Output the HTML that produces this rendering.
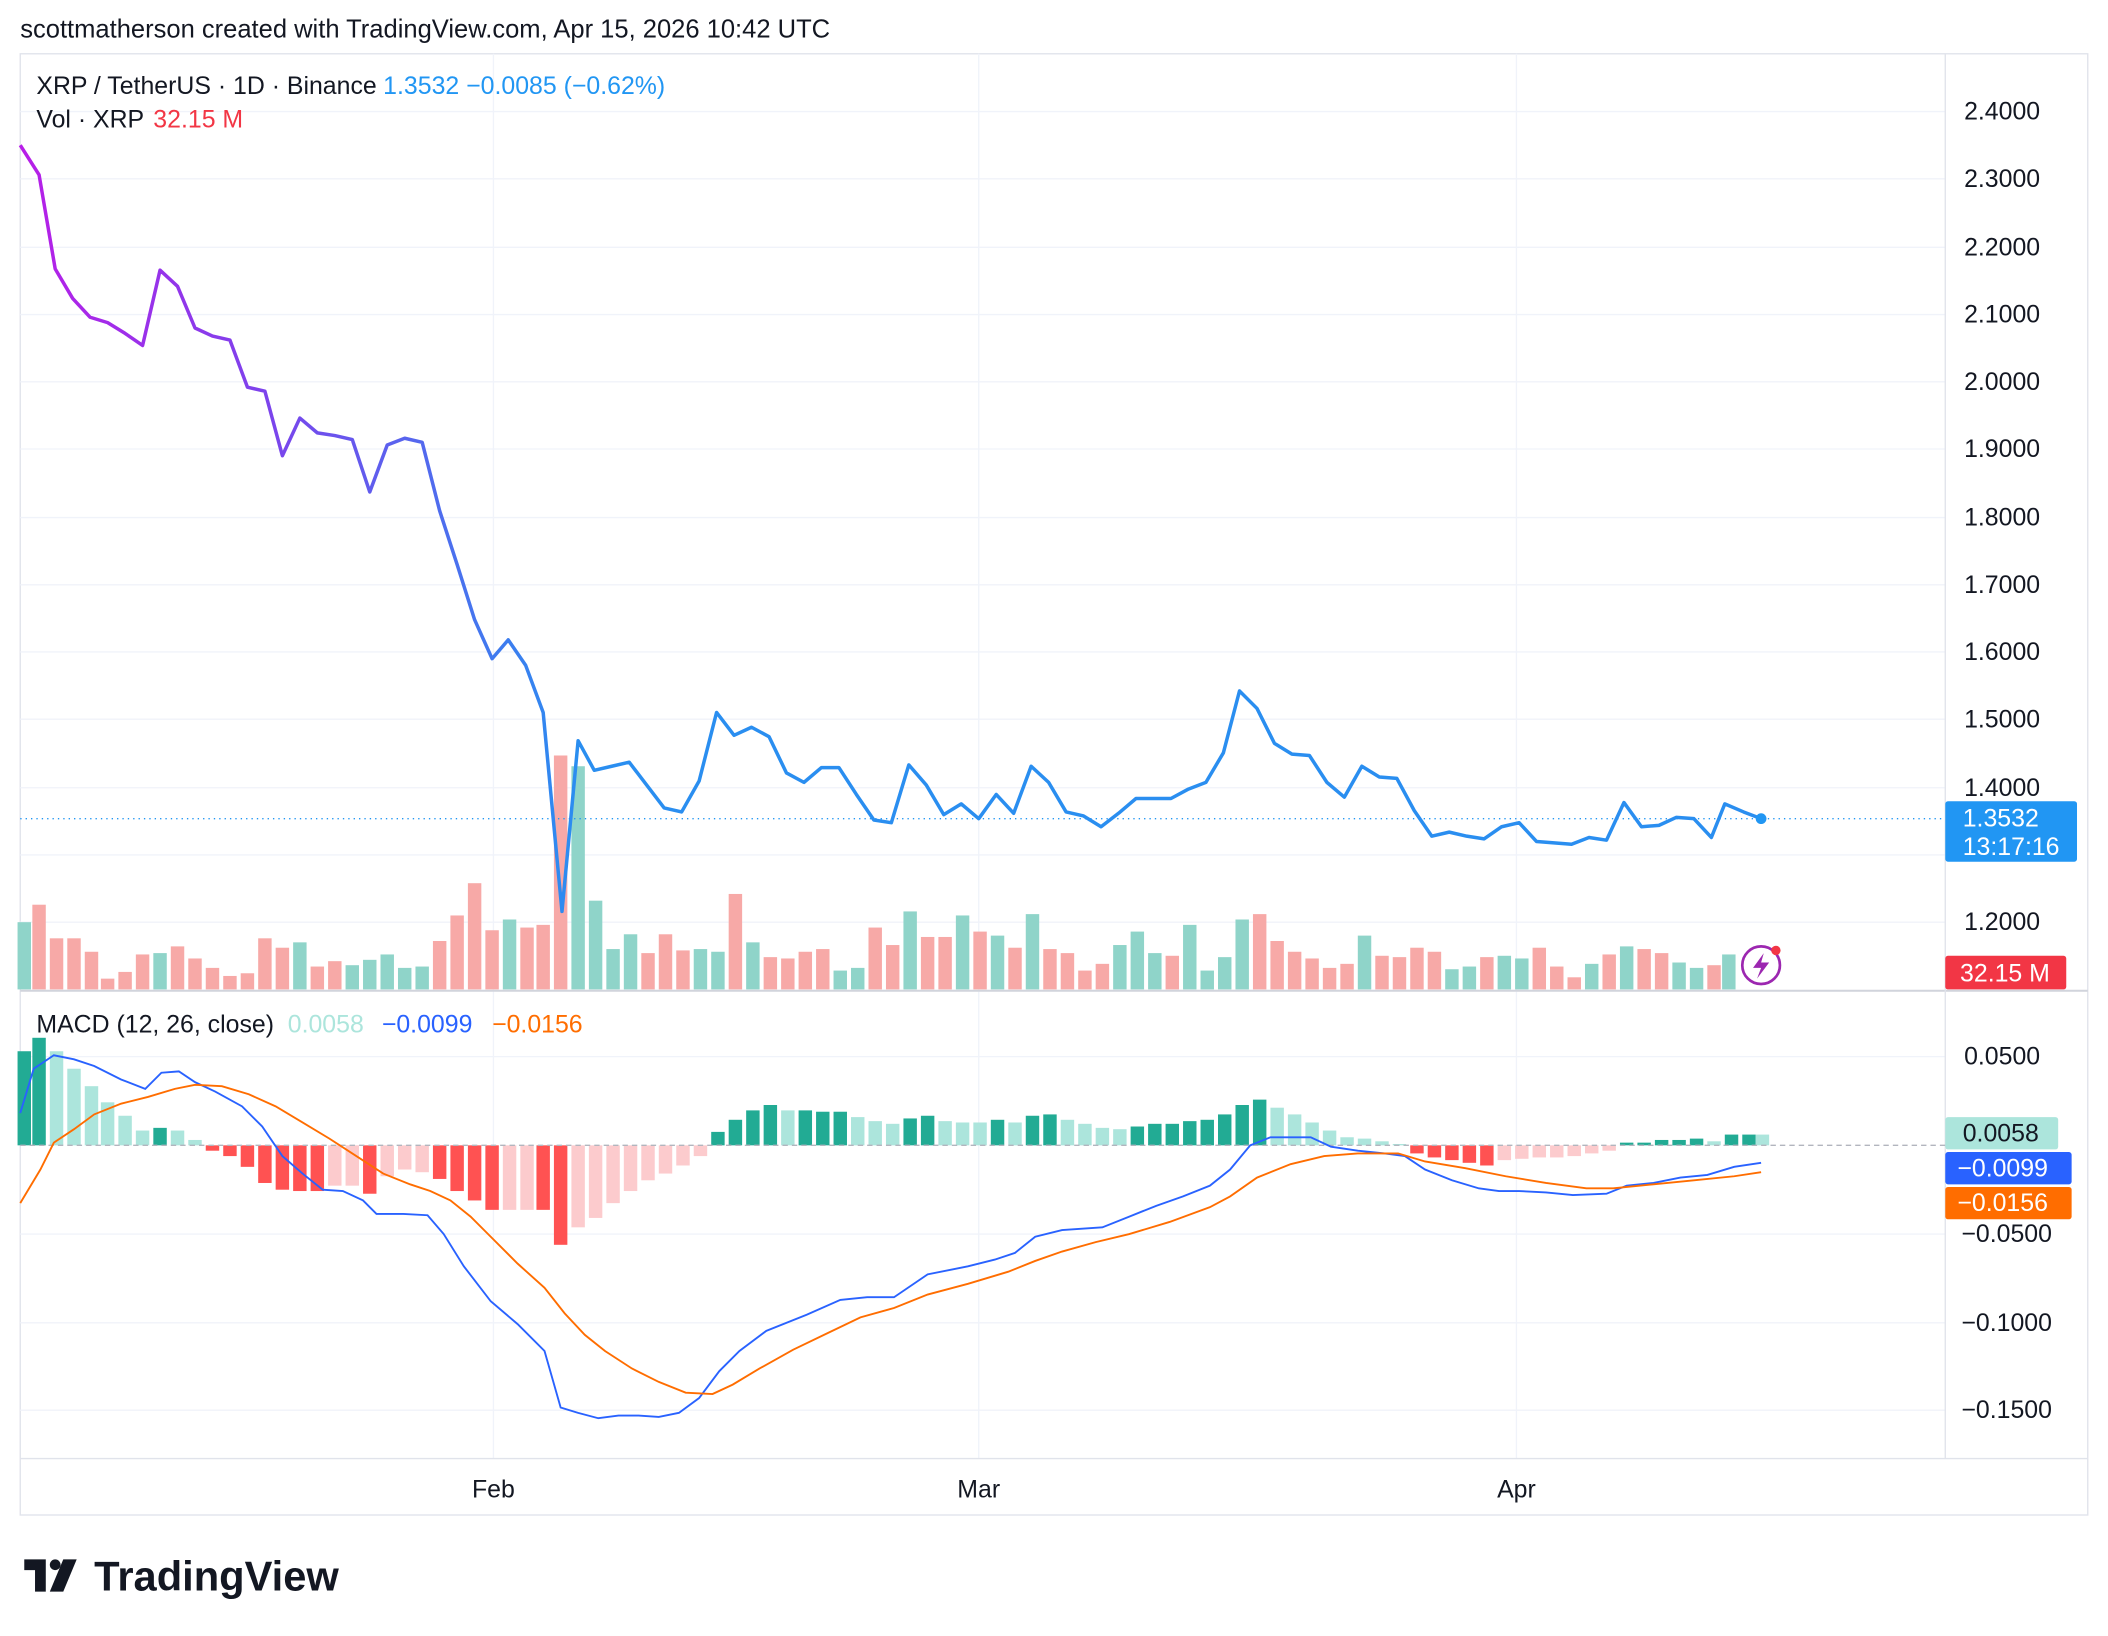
<!DOCTYPE html>
<html><head><meta charset="utf-8"><style>
html,body{margin:0;padding:0;background:#fff;}
svg{display:block;font-family:"Liberation Sans",Arial,sans-serif;}
</style></head><body>
<svg width="2108" height="1636" viewBox="0 0 1568 1217" xmlns="http://www.w3.org/2000/svg">
<defs>
<linearGradient id="pg" gradientUnits="userSpaceOnUse" x1="15" y1="0" x2="430" y2="0">
<stop offset="0" stop-color="#b81ee8"/><stop offset="0.45" stop-color="#7b44ec"/><stop offset="1" stop-color="#2a8ef0"/></linearGradient>
</defs>
<rect width="1568" height="1217" fill="#fff"/>
<text x="15" y="28" font-size="19" fill="#131722">scottmatherson created with TradingView.com, Apr 15, 2026 10:42 UTC</text>
<rect x="15" y="40" width="1538" height="1087" fill="none" stroke="#e0e3eb"/>
<g stroke="#f0f3fa" stroke-width="1">
<line x1="367" y1="40" x2="367" y2="1085"/><line x1="728" y1="40" x2="728" y2="1085"/><line x1="1128" y1="40" x2="1128" y2="1085"/>
<line x1="15" y1="83" x2="1447" y2="83"/><line x1="15" y1="133" x2="1447" y2="133"/><line x1="15" y1="184" x2="1447" y2="184"/><line x1="15" y1="234" x2="1447" y2="234"/><line x1="15" y1="284" x2="1447" y2="284"/><line x1="15" y1="334" x2="1447" y2="334"/><line x1="15" y1="385" x2="1447" y2="385"/><line x1="15" y1="435" x2="1447" y2="435"/><line x1="15" y1="485" x2="1447" y2="485"/><line x1="15" y1="535" x2="1447" y2="535"/><line x1="15" y1="586" x2="1447" y2="586"/><line x1="15" y1="636" x2="1447" y2="636"/><line x1="15" y1="686" x2="1447" y2="686"/>
<line x1="15" y1="786" x2="1447" y2="786"/><line x1="15" y1="918" x2="1447" y2="918"/><line x1="15" y1="984" x2="1447" y2="984"/><line x1="15" y1="1049" x2="1447" y2="1049"/>
</g>
<line x1="15" y1="737" x2="1553" y2="737" stroke="#d1d4dc" stroke-width="1.5"/>
<line x1="15" y1="1085" x2="1553" y2="1085" stroke="#e0e3eb"/>
<line x1="1447" y1="40" x2="1447" y2="1085" stroke="#e0e3eb"/>
<g font-size="18.5" fill="#131722">
<text x="1461" y="89">2.4000</text><text x="1461" y="139">2.3000</text><text x="1461" y="190">2.2000</text><text x="1461" y="240">2.1000</text><text x="1461" y="290">2.0000</text><text x="1461" y="340">1.9000</text><text x="1461" y="391">1.8000</text><text x="1461" y="441">1.7000</text><text x="1461" y="491">1.6000</text><text x="1461" y="541">1.5000</text><text x="1461" y="592">1.4000</text><text x="1461" y="692">1.2000</text>
<text x="1461" y="792">0.0500</text><text x="1459" y="924">−0.0500</text><text x="1459" y="990">−0.1000</text><text x="1459" y="1055">−0.1500</text>
<text x="367" y="1114" text-anchor="middle">Feb</text><text x="728" y="1114" text-anchor="middle">Mar</text><text x="1128" y="1114" text-anchor="middle">Apr</text>
</g>
<g id="vol"></g>
<g id="macdh"></g>
<line x1="15" y1="852" x2="1447" y2="852" stroke="#b2b5be" stroke-dasharray="4,3"/>
<line x1="15" y1="609" x2="1447" y2="609" stroke="#2196f3" stroke-dasharray="1,3"/>
<polyline fill="none" stroke="url(#pg)" stroke-width="2.6" stroke-linejoin="round" points="15,108 29,130 41,200 54,222 67,236 80,240 93,248 106,257 119,201 132,213 145,244 158,250 171,253 184,288 197,291 210,339 223,311 236,322 249,324 262,327 275,366 288,331 301,326 314,329 327,380 340,420 353,461 366,490 378,476 391,495 404,530 418,678 430,551 442,573 455,570 468,567 481,584 494,601 507,604 520,581 533,530 546,547 559,541 572,548 585,575 598,582 611,571 624,571 637,591 650,610 663,612 676,569 689,584 702,606 715,598 728,609 741,591 754,605 767,570 780,582 793,604 806,607 819,615 832,605 845,594 858,594 871,594 884,587 897,582 910,560 922,514 935,527 948,553 961,561 974,562 987,582 1000,593 1013,570 1026,578 1039,579 1052,603 1065,622 1078,619 1091,622 1104,624 1117,615 1130,612 1143,626 1156,627 1169,628 1182,623 1195,625 1208,597 1221,615 1234,614 1247,608 1260,609 1273,623 1283,598 1297,604 1310,609"/>
<circle cx="1310" cy="609" r="4" fill="#2196f3"/>
<polyline fill="none" stroke="#2962ff" stroke-width="1.4" points="15,828 25,795 40,785 55,788 70,793 90,803 108,810 120,798 133,797 145,805 160,812 180,823 195,838 210,860 225,873 240,885 255,886 270,893 280,903 300,903 318,904 330,918 345,942 365,968 385,985 405,1005 417,1047 430,1051 445,1055 460,1053 475,1053 490,1054 505,1051 520,1040 535,1020 550,1005 570,990 600,978 625,967 645,965 665,965 690,948 720,942 740,937 755,932 770,920 790,915 820,913 840,905 860,897 880,890 900,882 915,870 930,852 945,846 975,846 990,853 1010,856 1030,858 1045,860 1060,870 1080,878 1100,884 1115,886 1130,886 1150,887 1170,889 1195,888 1210,882 1230,880 1250,876 1270,874 1290,868 1310,865"/>
<polyline fill="none" stroke="#ff6d00" stroke-width="1.4" points="15,895 30,870 40,850 55,840 70,829 90,821 110,816 130,810 145,807 165,808 185,814 205,823 225,835 245,847 265,860 285,873 305,881 320,886 335,893 350,905 365,920 385,940 405,958 420,977 435,993 450,1005 470,1018 490,1028 510,1036 530,1037 545,1030 565,1018 590,1004 615,992 640,980 665,973 690,963 720,955 750,946 770,938 790,931 815,924 840,918 870,909 900,898 915,890 935,876 960,866 985,860 1010,858 1040,858 1060,864 1090,869 1120,875 1150,880 1180,884 1200,884 1230,881 1260,878 1290,875 1310,872"/>
<circle cx="1310" cy="718" r="14" fill="#fff" stroke="#9c27b0" stroke-width="2"/>
<path d="M1312,709 L1304,720 L1310,720 L1307,728 L1316,716 L1310,716 Z" fill="#9c27b0"/>
<circle cx="1321" cy="707" r="3.5" fill="#f23645"/>
<g font-size="18.5">
<text x="27" y="70" fill="#131722">XRP / TetherUS · 1D · Binance</text>
<text x="285" y="70" fill="#2196f3">1.3532  −0.0085 (−0.62%)</text>
<text x="27" y="95" fill="#131722">Vol · XRP</text><text x="114" y="95" fill="#f23645">32.15 M</text>
<text x="27" y="768" fill="#131722">MACD (12, 26, close)</text>
<text x="214" y="768" fill="#ace5dc">0.0058</text><text x="284" y="768" fill="#2962ff">−0.0099</text><text x="366" y="768" fill="#ff6d00">−0.0156</text>
</g>
<rect x="1447" y="596" width="98" height="45" rx="2" fill="#2196f3"/>
<text x="1460" y="615" font-size="18.5" fill="#fff">1.3532</text><text x="1460" y="636" font-size="18.5" fill="#fff">13:17:16</text>
<rect x="1447" y="711" width="90" height="25" rx="2" fill="#f23645"/><text x="1458" y="730" font-size="18.5" fill="#fff">32.15 M</text>
<rect x="1447" y="831" width="84" height="24" rx="2" fill="#ace5dc"/><text x="1460" y="849" font-size="18.5" fill="#131722">0.0058</text>
<rect x="1447" y="857" width="94" height="24" rx="2" fill="#2962ff"/><text x="1456" y="875" font-size="18.5" fill="#fff">−0.0099</text>
<rect x="1447" y="883" width="94" height="24" rx="2" fill="#ff6d00"/><text x="1456" y="901" font-size="18.5" fill="#fff">−0.0156</text>
<g fill="#131722"><path d="M18,1160 h16 v24 h-8 v-16 h-8 z"/><circle cx="41" cy="1164" r="4"/><path d="M47,1160 h10 l-10,24 h-10 z"/></g>
<text x="70" y="1183" font-size="31" font-weight="bold" fill="#131722">TradingView</text>
<script>
(function(){
var ns="http://www.w3.org/2000/svg";
function R(g,x,y,w,h,c){var r=document.createElementNS(ns,"rect");r.setAttribute("x",x);r.setAttribute("y",y);r.setAttribute("width",w);r.setAttribute("height",Math.max(h,1));r.setAttribute("fill",c);document.getElementById(g).appendChild(r);}
var V="18,686,g 29,673,r 42,698,r 55,698,r 68,708,r 80,728,r 93,723,r 106,710,r 119,709,g 132,704,r 145,713,r 158,720,r 171,726,r 184,724,r 197,698,r 210,705,r 223,701,g 236,719,r 249,715,r 262,718,g 275,714,g 288,710,g 301,720,g 314,719,g 327,700,r 340,681,r 353,657,r 366,692,r 379,684,g 392,690,r 404,688,r 417,562,r 430,570,g 443,670,g 456,706,g 469,695,g 482,709,r 495,695,r 508,707,r 521,706,g 534,708,g 547,665,r 560,701,g 573,712,r 586,713,r 599,708,r 612,706,r 625,722,g 638,720,g 651,690,r 664,703,r 677,678,g 690,697,r 703,697,r 716,681,g 729,693,r 742,696,g 755,705,r 768,680,g 781,706,r 794,709,r 807,722,r 820,717,r 833,703,g 846,693,g 859,709,g 872,711,r 885,688,g 898,722,g 911,712,g 924,684,g 937,680,r 950,700,r 963,708,r 976,713,r 989,720,r 1002,717,r 1015,696,g 1028,711,r 1041,712,r 1054,705,r 1067,708,r 1080,721,g 1093,719,g 1106,712,r 1119,711,g 1132,713,g 1145,705,r 1158,719,r 1171,727,r 1184,717,g 1197,710,r 1210,704,g 1223,706,r 1236,709,r 1249,716,g 1262,720,g 1275,718,r 1286,710,g";
V.split(" ").forEach(function(s){var p=s.split(",");var x=+p[0],y=+p[1];R("vol",x-5,y,10,736-y,p[2]=="g"?"#8fd4c9":"#f7a9a7");});
var M="18,782,d 29,772,d 42,782,l 55,795,l 68,808,l 80,820,l 93,830,l 106,841,l 119,839,d 132,841,l 145,848,l 158,856,R 171,860,R 184,868,R 197,880,R 210,885,R 223,886,R 236,886,R 249,882,P 262,882,P 275,888,R 288,875,P 301,870,P 314,872,P 327,877,R 340,886,R 353,893,R 366,900,R 379,900,P 392,900,P 404,900,R 417,926,R 430,913,P 443,906,P 456,895,P 469,886,P 482,878,P 495,873,P 508,867,P 521,860,P 534,842,d 547,833,d 560,826,d 573,822,d 586,826,l 599,826,d 612,827,d 625,827,d 638,831,l 651,834,l 664,836,l 677,832,d 690,830,d 703,834,l 716,835,l 729,835,l 742,833,d 755,835,l 768,830,d 781,829,d 794,833,l 807,836,l 820,839,l 833,840,l 846,838,d 859,836,d 872,836,d 885,834,d 898,833,d 911,829,d 924,822,d 937,818,d 950,824,l 963,829,l 976,835,l 989,841,l 1002,846,l 1015,847,l 1028,849,l 1041,851,l 1054,858,R 1067,861,R 1080,863,R 1093,865,R 1106,867,R 1119,863,P 1132,862,P 1145,861,P 1158,861,P 1171,860,P 1184,858,P 1197,856,P 1210,850,d 1223,850,d 1236,848,d 1249,848,d 1262,847,d 1275,849,l 1288,844,d 1301,844,d 1311,844,l";
var C={d:"#22ab94",l:"#ace5dc",R:"#ff5252",P:"#fccbcd"};
M.split(" ").forEach(function(s){var p=s.split(",");var x=+p[0],y=+p[1];var t=Math.min(y,852),h=Math.abs(y-852);R("macdh",x-5,t,10,h,C[p[2]]);});
})();
</script>
</svg>
</body></html>
